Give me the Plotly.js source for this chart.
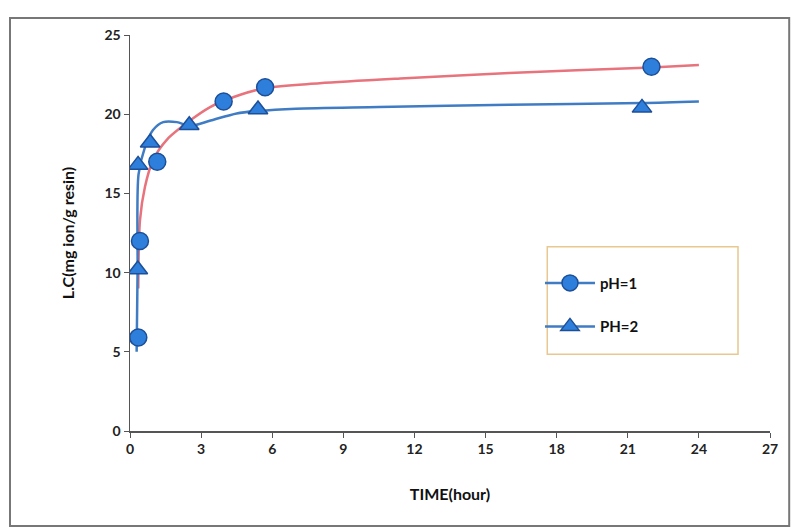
<!DOCTYPE html>
<html>
<head>
<meta charset="utf-8">
<script src="https://cdn.plot.ly/plotly-3.0.1.min.js"></script>
<style>html,body{margin:0;padding:0;background:#fff;}#chart{width:792px;height:529px;}</style>
</head>
<body>
<div id="chart"></div>
<script>
// measured points
const ph1Time = [0.35, 0.42, 1.15, 3.95, 5.7, 22.0];
const ph1LC   = [5.9, 12.0, 17.0, 20.8, 21.7, 23.0];
const ph2Time = [0.33, 0.34, 0.85, 2.5, 5.4, 21.6];
const ph2LC   = [10.2, 16.8, 18.2, 19.3, 20.3, 20.4];
// smoothed curves
const ph1CurveTime = [0.35, 0.42, 0.63, 0.97, 1.56, 2.53, 3.38, 3.95, 5.7, 8.0, 11.4, 16.0, 22.0, 24.0];
const ph1CurveLC   = [9.0, 13.3, 15.4, 17.1, 18.4, 19.6, 20.45, 20.85, 21.65, 21.95, 22.25, 22.6, 22.95, 23.1];
const ph2CurveTime = [0.28, 0.32, 0.36, 0.63, 0.97, 1.4, 1.98, 2.53, 3.4, 4.5, 5.36, 7.0, 10.5, 16.0, 21.6, 24.0];
const ph2CurveLC   = [5.0, 10.2, 16.2, 17.9, 19.0, 19.5, 19.5, 19.25, 19.6, 20.05, 20.2, 20.35, 20.45, 20.6, 20.7, 20.8];
const xTicks = [0, 3, 6, 9, 12, 15, 18, 21, 24, 27];
const yTicks = [0, 5, 10, 15, 20, 25];

const FONT = 'Lato, "Open Sans", sans-serif';
const pink = '#e8737c';
const lineBlue = '#3f7cc4';
const markBlue = '#2d7fdb';
const markEdge = '#1d4f98';

const traces = [
  {x: ph1CurveTime, y: ph1CurveLC, mode: 'lines', line: {color: pink, width: 2.5, shape: 'spline', smoothing: 0.8}, showlegend: false, hoverinfo: 'skip'},
  {x: ph2CurveTime, y: ph2CurveLC, mode: 'lines', line: {color: lineBlue, width: 2.5, shape: 'spline', smoothing: 0.8}, showlegend: false, hoverinfo: 'skip'},
  {x: ph1Time, y: ph1LC, mode: 'markers', marker: {symbol: 'circle', size: 17, color: markBlue, line: {color: markEdge, width: 1.5}}, showlegend: false},
  {x: ph2Time, y: ph2LC, mode: 'markers', marker: {symbol: 'triangle-up', size: 17, color: markBlue, line: {color: markEdge, width: 1.5}}, showlegend: false},
  {x: [null], y: [null], name: 'pH=1', legendgroup: 'a', mode: 'lines+markers', line: {color: lineBlue, width: 2.5}, marker: {symbol: 'circle', size: 18, color: markBlue, line: {color: markEdge, width: 1.5}}},
  {x: [null], y: [null], name: 'PH=2', legendgroup: 'b', mode: 'lines+markers', line: {color: lineBlue, width: 2.5}, marker: {symbol: 'triangle-up', size: 18, color: markBlue, line: {color: markEdge, width: 1.5}}}
];

const layout = {
  width: 792, height: 529,
  margin: {l: 130, r: 22, t: 35, b: 98},
  paper_bgcolor: '#fff', plot_bgcolor: '#fff',
  font: {family: FONT, size: 13, color: '#222'},
  xaxis: {
    range: [0, 27], tickvals: xTicks, ticktext: xTicks.map(String),
    showgrid: false, zeroline: false, showline: true, linecolor: '#555', linewidth: 1.5,
    ticks: 'outside', ticklen: 5, tickcolor: '#555',
    tickfont: {family: FONT, size: 14, color: '#222', weight: 'bold'},
    title: {text: '<b>TIME(hour)</b>', font: {family: FONT, size: 16, color: '#111'}, standoff: 32}
  },
  yaxis: {
    range: [0, 25], tickvals: yTicks, ticktext: yTicks.map(String),
    showgrid: false, zeroline: false, showline: true, linecolor: '#555', linewidth: 1.5,
    ticks: 'outside', ticklen: 5, tickcolor: '#555',
    tickfont: {family: FONT, size: 14, color: '#222', weight: 'bold'},
    title: {text: '<b>L.C(mg ion/g resin)</b>', font: {family: FONT, size: 16, color: '#111'}, standoff: 26}
  },
  legend: {
    x: 0.6406, y: 0.415, xanchor: 'left', yanchor: 'top',
    bgcolor: 'rgba(0,0,0,0)', borderwidth: 0,
    font: {family: FONT, size: 15, color: '#111', weight: 'bold'},
    itemwidth: 50, tracegroupgap: 21
  },
  shapes: [
    {type: 'rect', xref: 'paper', yref: 'paper', x0: -0.1875, x1: 1.03, y0: -0.24, y1: 1.043,
     line: {color: '#777', width: 2}, fillcolor: 'rgba(0,0,0,0)'},
    {type: 'rect', xref: 'paper', yref: 'paper', x0: 0.652, x1: 0.95, y0: 0.194, y1: 0.465,
     line: {color: '#e8c890', width: 1.5}, fillcolor: 'rgba(0,0,0,0)'}
  ]
};

Plotly.newPlot('chart', traces, layout, {staticPlot: true, displayModeBar: false});
</script>
</body>
</html>
